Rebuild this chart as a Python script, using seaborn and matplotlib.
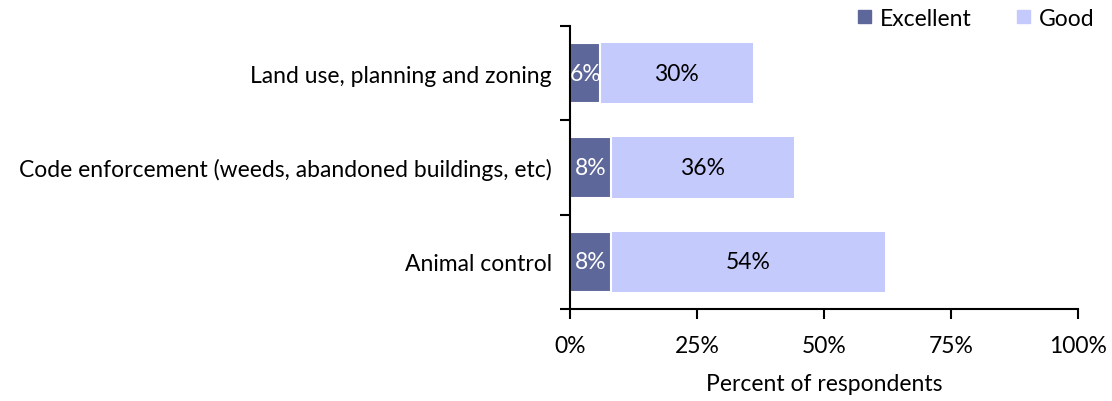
import numpy as np
import pandas as pd
import matplotlib
matplotlib.use("Agg")
import matplotlib.pyplot as plt
import seaborn as sns
from matplotlib.patches import Patch

categories = ["Land use, planning and zoning",
              "Code enforcement (weeds, abandoned buildings, etc)",
              "Animal control"]
excellent = [6, 8, 8]
good = [30, 36, 54]
xticks = [0, 25, 50, 75, 100]

DARK = "#5E6799"
LIGHT = "#C5CAFC"
FS = 16.5

sns.set_theme(style="white")
plt.rcParams["font.family"] = ["Lato", "DejaVu Sans"]
plt.rcParams["text.color"] = "black"
plt.rcParams["xtick.color"] = "black"
plt.rcParams["ytick.color"] = "black"
plt.rcParams["axes.labelcolor"] = "black"

df = pd.DataFrame({"category": categories, "Excellent": excellent, "Good": good})
df["total"] = df["Excellent"] + df["Good"]

fig = plt.figure(figsize=(11.12, 4.02), dpi=100)
ax = fig.add_axes([0.5126, 0.229, 0.9694 - 0.5126, 0.933 - 0.229])

sns.barplot(data=df, y="category", x="total", color=LIGHT, orient="h",
            width=0.64, ax=ax, saturation=1, edgecolor="none")
sns.barplot(data=df, y="category", x="Excellent", color=DARK, orient="h",
            width=0.64, ax=ax, saturation=1, edgecolor="white", linewidth=1.5)

for i, (e, g) in enumerate(zip(excellent, good)):
    ax.text(e / 2, i, f"{e}%", ha="center", va="center", color="white", fontsize=FS)
    ax.text(e + g / 2, i, f"{g}%", ha="center", va="center", color="black", fontsize=FS)

ax.set_xlim(0, 100)
ax.set_ylim(2.5, -0.5)
ax.set_xticks(xticks)
ax.set_xticklabels([f"{t}%" for t in xticks], fontsize=FS)
ax.set_yticks(range(len(categories)))
ax.set_yticklabels(categories, fontsize=FS)
ax.set_yticks([-0.5, 0.5, 1.5, 2.5], minor=True)
ax.tick_params(axis="y", which="major", left=True, length=0, pad=13)
ax.tick_params(axis="y", which="minor", left=True, length=7, width=1.5,
               color="black", direction="out")
ax.tick_params(axis="x", which="major", bottom=True, length=7, width=1.5,
               color="black", direction="out", pad=12)
ax.set_xlabel("Percent of respondents", fontsize=FS, labelpad=12)
ax.set_ylabel("")

for s in ["top", "right"]:
    ax.spines[s].set_visible(False)
for s in ["left", "bottom"]:
    ax.spines[s].set_color("black")
    ax.spines[s].set_linewidth(1.5)

handles = [Patch(color=DARK, label="Excellent"), Patch(color=LIGHT, label="Good")]
fig.legend(handles=handles, loc="upper right", bbox_to_anchor=(1.003, 1.03), ncol=2,
           frameon=False, fontsize=FS, handlelength=0.55, handleheight=0.55,
           columnspacing=2.0, handletextpad=0.4)

fig.savefig("out.png", dpi=100)
